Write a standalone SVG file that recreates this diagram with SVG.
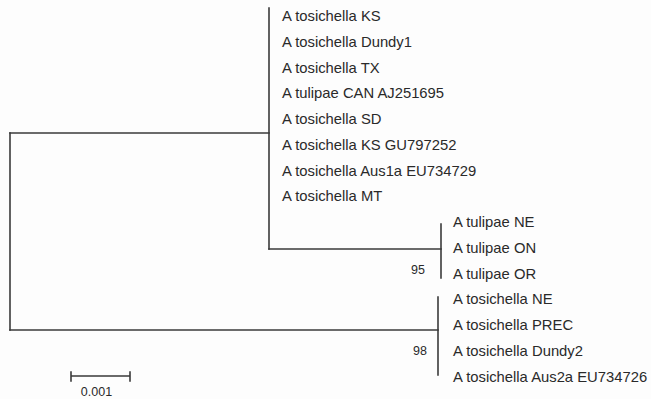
<svg xmlns="http://www.w3.org/2000/svg" width="651" height="399" viewBox="0 0 651 399">
<style>
.br{fill:none;stroke:#3a3a3a;stroke-width:1.6;stroke-linecap:square}
.lb{font-family:"Liberation Sans",Arial,sans-serif;font-size:14.8px;fill:#2a2a2a}
.bs{font-family:"Liberation Sans",Arial,sans-serif;font-size:12.5px;fill:#2a2a2a}
</style>
<rect width="651" height="399" fill="#fdfdfd"/>
<g id="connectors">
<path class="br" d="M10,133 V330"/>
<path class="br" d="M10,133 H269"/>
<path class="br" d="M269,8 V249"/>
<path class="br" d="M269,249 H441"/>
<path class="br" d="M441,224 V278"/>
<path class="br" d="M10,330 H438"/>
<path class="br" d="M438,297 V375"/>
</g>
<g id="clade1">
<text class="lb" x="282" y="21">A tosichella KS</text>
<text class="lb" x="282" y="46.75">A tosichella Dundy1</text>
<text class="lb" x="282" y="72.5">A tosichella TX</text>
<text class="lb" x="282" y="98.25">A tulipae CAN AJ251695</text>
<text class="lb" x="282" y="124">A tosichella SD</text>
<text class="lb" x="282" y="149.75">A tosichella KS GU797252</text>
<text class="lb" x="282" y="175.5">A tosichella Aus1a EU734729</text>
<text class="lb" x="282" y="201.25">A tosichella MT</text>
</g>
<g id="clade2">
<text class="lb" x="453" y="227">A tulipae NE</text>
<text class="lb" x="453" y="252.75">A tulipae ON</text>
<text class="lb" x="453" y="278.5">A tulipae OR</text>
<text class="bs" x="425" y="273.5" text-anchor="end">95</text>
</g>
<g id="clade3">
<text class="lb" x="453" y="304.25">A tosichella NE</text>
<text class="lb" x="453" y="330">A tosichella PREC</text>
<text class="lb" x="453" y="355.75">A tosichella Dundy2</text>
<text class="lb" x="453" y="381.5">A tosichella Aus2a EU734726</text>
<text class="bs" x="427" y="354.5" text-anchor="end">98</text>
</g>
<g id="scale">
<path class="br" d="M71,376 H130 M71,372 V381 M130,372 V381"/>
<text class="bs" x="96.5" y="396" text-anchor="middle">0.001</text>
</g>
</svg>
